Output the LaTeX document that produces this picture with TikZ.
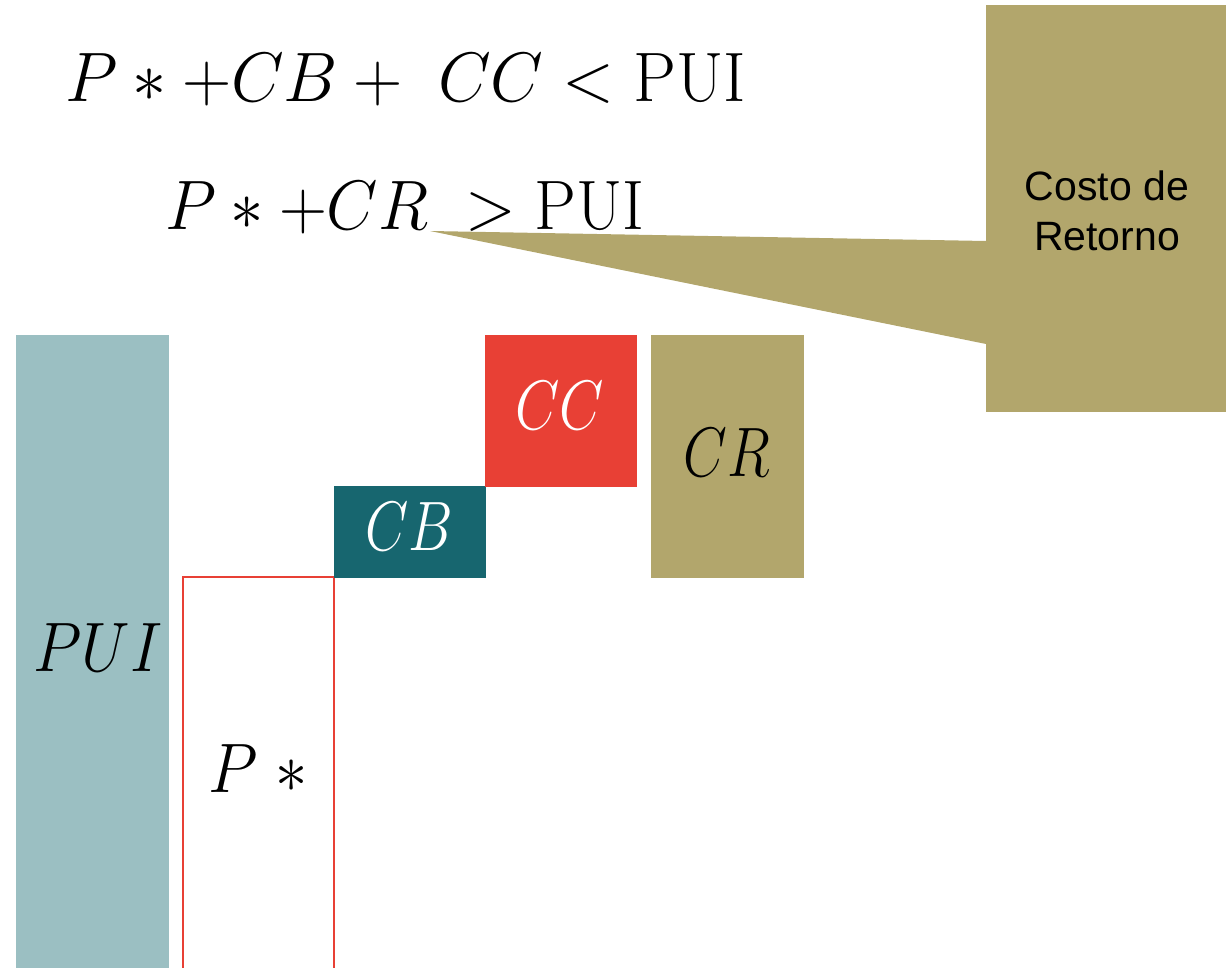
\documentclass[tikz,border=0pt]{standalone}
\usepackage{fix-cm}
\usepackage{graphicx}
\usepackage{fontspec}
\newfontfamily\arialf{Liberation Sans}
\definecolor{puic}{HTML}{9BBFC2}
\definecolor{cbc}{HTML}{17666F}
\definecolor{ccc}{HTML}{E84035}
\definecolor{crc}{HTML}{B2A66C}
\newcommand{\narrow}[2]{\scalebox{#1}[1]{#2}}
\begin{document}
\begin{tikzpicture}[x=1pt,y=-1pt,
  blk/.style={draw=none,inner sep=0pt,outer sep=0pt,anchor=north west},
  big/.style={font=\fontsize{70}{80}\selectfont},
  eq/.style={big,inner sep=0pt,anchor=base west}]
\useasboundingbox (0,0) rectangle (1226,968);
% bars
\node[blk,fill=puic,minimum width=153pt,minimum height=633pt] (pui) at (16,335) {};
\node[big] (puilbl) at (98,648) {\narrow{0.9}{$PUI$}};
\node[blk,draw=ccc,line width=1.5pt,minimum width=151pt,minimum height=400pt] (pstar) at (183,577) {};
\node[big] (pstarlbl) at (258,769) {\narrow{0.92}{$P\;*$}};
\node[blk,fill=cbc,minimum width=152pt,minimum height=92pt] (cb) at (334,486) {};
\node[big,text=white] (cblbl) at (409,527) {\narrow{0.8}{$CB$}};
\node[blk,fill=ccc,minimum width=152pt,minimum height=152pt] (cc) at (485,335) {};
\node[big,text=white] (cclbl) at (560,406) {\narrow{0.82}{$CC$}};
\node[blk,fill=crc,minimum width=153pt,minimum height=243pt] (cr) at (651,335) {};
\node[big] (crlbl) at (727,453) {\narrow{0.81}{$CR$}};
% equations
\node[eq] (eq1) at (65,102) {\narrow{0.975}{$P*{+}CB+\ CC<\mathrm{PUI}$}};
\node[eq] (eq2) at (165,230) {\narrow{0.95}{$P*{+}CR\;>\mathrm{PUI}$}};
% callout
\coordinate (tip) at (430,231);
\node[blk,fill=crc,minimum width=240pt,minimum height=407pt] (callout) at (986,5) {};
\fill[crc] (tip) -- (986,241) -- (986,344) -- cycle;
\node[align=center,font=\arialf\fontsize{41}{50}\selectfont] (calltxt) at (1107,211) {Costo de\\Retorno};
\end{tikzpicture}
\end{document}
